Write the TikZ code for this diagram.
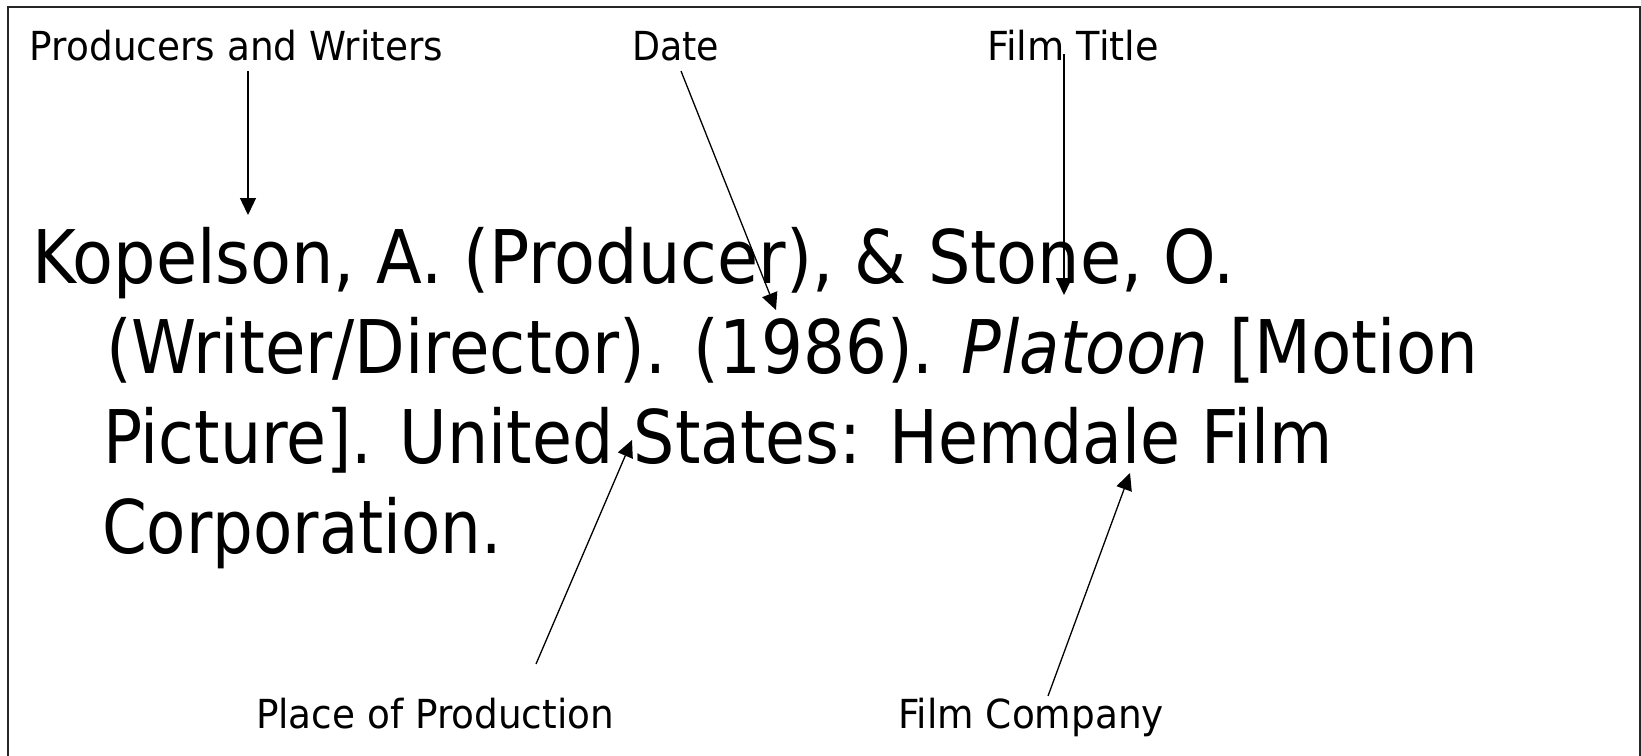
\documentclass[tikz,border=0pt]{standalone}
\usepackage{fontspec}
\setmainfont{DejaVu Sans}
\usepackage{graphicx}
\usetikzlibrary{arrows.meta}
\tikzset{
  big/.style={inner sep=0pt, outer sep=0pt, anchor=base west, font=\fontsize{74}{80}\selectfont},
  lab/.style={inner sep=0pt, outer sep=0pt, anchor=base west, font=\fontsize{40}{44}\selectfont},
  pointer/.style={line width=1.3pt, -{Triangle[length=17pt,width=16pt]}},
  frame/.style={line width=1.5pt, draw=black!85}
}
\newcommand{\fitto}[2]{\resizebox{#1pt}{\height}{#2}}
\begin{document}
\begin{tikzpicture}[x=1pt,y=-1pt]
\useasboundingbox (0,0) rectangle (1641,755);
\draw[frame] (8,760) -- (8,7) -- (1640,7) -- (1640,760);
% main reference text
\node[big] (l1) at (32,283) {\fitto{1203}{Kopelson, A. (Producer), \& Stone, O.}};
\node[big] (l2) at (106,373) {\fitto{1372}{(Writer/Director). (1986). \textit{Platoon} [Motion}};
\node[big] (l3) at (103,463) {\fitto{1230}{Picture]. United States: Hemdale Film}};
\node[big] (l4) at (102,553) {\fitto{400}{Corporation.}};
% labels
\node[lab] (pw) at (30,60) {\fitto{413}{Producers and Writers}};
\node[lab] (dt) at (632,60) {\fitto{87}{Date}};
\node[lab] (ft) at (987,60) {\fitto{172}{Film Title}};
\node[lab] (pp) at (256,728) {\fitto{358}{Place of Production}};
\node[lab] (fc) at (898,728) {\fitto{266}{Film Company}};
% arrow end points
\coordinate (pwS) at (248,71);  \coordinate (pwT) at (248,215);
\coordinate (dtS) at (681,71);  \coordinate (dtT) at (776,310);
\coordinate (ftS) at (1064,54); \coordinate (ftT) at (1064,295);
\coordinate (ppS) at (536,664); \coordinate (ppT) at (632,440);
\coordinate (fcS) at (1048,696); \coordinate (fcT) at (1130,473);
\draw[pointer] (pwS) -- (pwT);
\draw[pointer] (dtS) -- (dtT);
\draw[pointer] (ftS) -- (ftT);
\draw[pointer] (ppS) -- (ppT);
\draw[pointer] (fcS) -- (fcT);
\end{tikzpicture}
\end{document}
